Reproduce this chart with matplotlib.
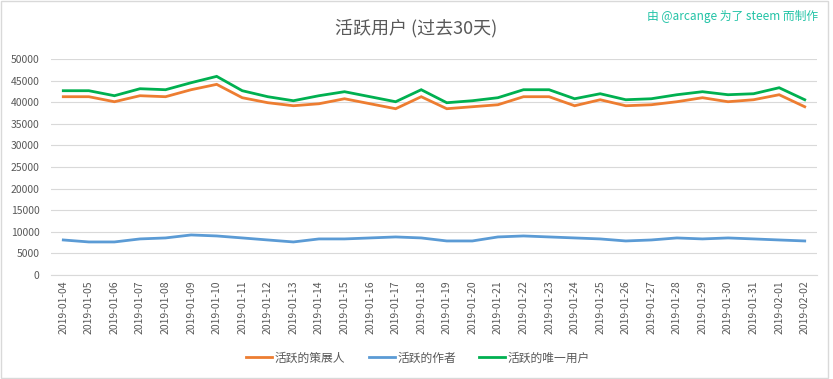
import matplotlib.pyplot as plt
from matplotlib.patches import Rectangle

plt.rcParams['font.family'] = ['Noto Sans CJK SC', 'DejaVu Sans']

dates = ['2019-01-04', '2019-01-05', '2019-01-06', '2019-01-07', '2019-01-08',
         '2019-01-09', '2019-01-10', '2019-01-11', '2019-01-12', '2019-01-13',
         '2019-01-14', '2019-01-15', '2019-01-16', '2019-01-17', '2019-01-18',
         '2019-01-19', '2019-01-20', '2019-01-21', '2019-01-22', '2019-01-23',
         '2019-01-24', '2019-01-25', '2019-01-26', '2019-01-27', '2019-01-28',
         '2019-01-29', '2019-01-30', '2019-01-31', '2019-02-01', '2019-02-02']

curators = [41270, 41270, 40110, 41500, 41270, 42890, 44130, 41040, 39880, 39180,
            39640, 40800, 39640, 38490, 41270, 38490, 38950, 39410, 41270, 41270,
            39180, 40570, 39180, 39410, 40110, 41040, 40110, 40570, 41730, 38950]

authors = [8110, 7650, 7650, 8350, 8580, 9270, 9040, 8580, 8110, 7650,
           8350, 8350, 8580, 8810, 8580, 7880, 7880, 8810, 9040, 8810,
           8580, 8350, 7880, 8110, 8580, 8350, 8580, 8350, 8110, 7880]

unique_users = [42660, 42660, 41500, 43120, 42890, 44510, 45980, 42660, 41270, 40340,
                41500, 42430, 41270, 40110, 42890, 39880, 40340, 41040, 42890, 42890,
                40800, 41960, 40570, 40800, 41730, 42430, 41730, 41960, 43350, 40570]

labels = ['活跃的策展人', '活跃的作者', '活跃的唯一用户']
colors = ['#ED7D31', '#5B9BD5', '#00B050']
text_color = '#595959'

fig = plt.figure(figsize=(8.33, 3.79), dpi=100)
ax = fig.add_axes([50.5 / 833, 1 - 275 / 379, (817.5 - 50.5) / 833, (275 - 59) / 379])

x = list(range(len(dates)))
for series, lab, col in zip([curators, authors, unique_users], labels, colors):
    ax.plot(x, series, color=col, linewidth=2, label=lab, solid_joinstyle='miter')

ax.set_xlim(-0.5, len(dates) - 0.5)
ax.set_ylim(0, 50000)
ax.set_yticks(range(0, 50001, 5000))
ax.set_xticks(x)
ax.set_xticklabels(dates, rotation=90, fontsize=7.5, color=text_color)
ax.tick_params(axis='y', labelsize=7.5, labelcolor=text_color, length=0, pad=8)
ax.tick_params(axis='x', length=0, pad=4)
ax.grid(axis='y', color='#D9D9D9', linewidth=0.8)
ax.set_axisbelow(True)
for s in ['top', 'right', 'left']:
    ax.spines[s].set_visible(False)
ax.spines['bottom'].set_color('#D9D9D9')
ax.spines['bottom'].set_linewidth(0.8)

fig.text(0.499, 1 - 28 / 379, '活跃用户 (过去30天)', ha='center', va='center',
         fontsize=13, color=text_color, fontweight='light')
fig.text(818 / 833, 1 - 16 / 379, '由 @arcange 为了 steem 而制作', ha='right', va='center',
         fontsize=8.5, color='#22C3A6')

fig.legend(loc='center', bbox_to_anchor=(0.502, 1 - 358 / 379), ncol=3, frameon=False,
           fontsize=8.5, labelcolor=text_color, handlelength=2.2, handletextpad=0.2,
           columnspacing=2.0)

fig.patches.append(Rectangle((0.001, 0.002), 0.993, 0.996, transform=fig.transFigure,
                             fill=False, edgecolor='#D9D9D9', linewidth=1))

fig.savefig('out.png', dpi=100)
